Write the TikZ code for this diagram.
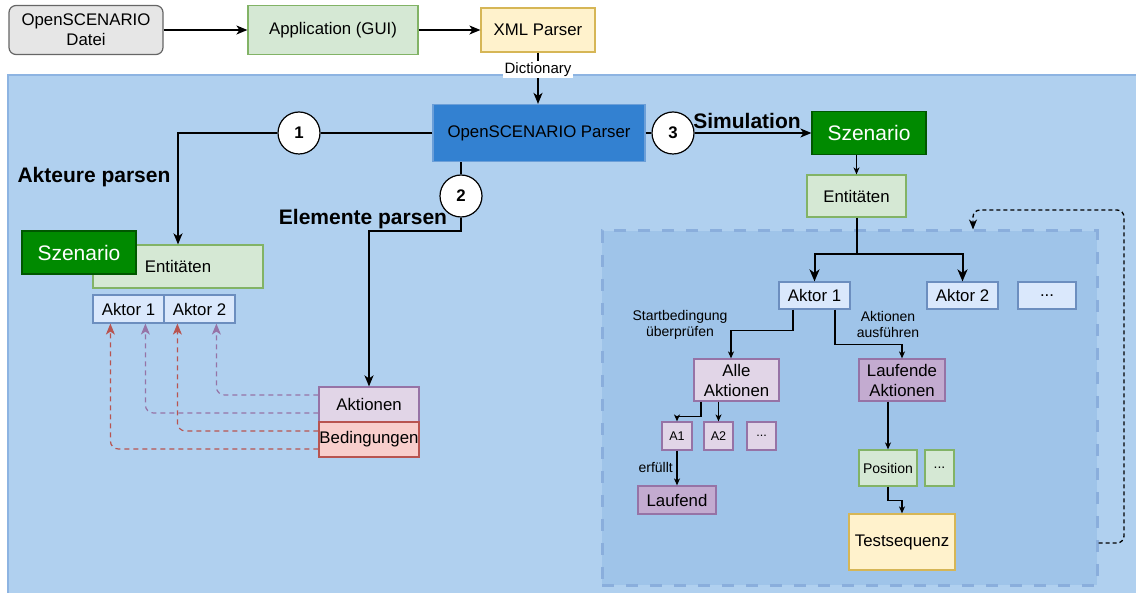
\documentclass[tikz,border=0pt]{standalone}
\usepackage{fontspec}
\setmainfont{Liberation Sans}
\usetikzlibrary{arrows.meta,calc}

\definecolor{grayfill}{HTML}{E6E6E6}
\definecolor{graydraw}{HTML}{666666}
\definecolor{greenfill}{HTML}{D5E8D4}
\definecolor{greendraw}{HTML}{82B366}
\definecolor{yellowfill}{HTML}{FFF2CC}
\definecolor{yellowdraw}{HTML}{D6B656}
\definecolor{bluefill}{HTML}{DAE8FC}
\definecolor{bluedraw}{HTML}{6C8EBF}
\definecolor{purplefill}{HTML}{E1D5E7}
\definecolor{purpledark}{HTML}{C3ABD0}
\definecolor{purpledraw}{HTML}{9673A6}
\definecolor{redfill}{HTML}{F8CECC}
\definecolor{reddraw}{HTML}{B85450}
\definecolor{darkgreen}{HTML}{008A00}
\definecolor{darkgreendraw}{HTML}{005700}
\definecolor{parserfill}{HTML}{3381D1}
\definecolor{parserdraw}{HTML}{6C9FD8}
\definecolor{panel}{HTML}{B0D0EF}
\definecolor{panelline}{HTML}{8DB4E2}
\definecolor{grpfill}{HTML}{9FC4E9}
\definecolor{grpline}{HTML}{8AAEDC}

\newcommand{\fsz}[2]{\fontsize{#1}{#2}\selectfont}

\tikzset{
  box/.style={draw, line width=1.2pt, inner sep=0pt, align=center, font=\fsz{16.8}{20}},
  gbox/.style={box, fill=greenfill, draw=greendraw},
  ybox/.style={box, fill=yellowfill, draw=yellowdraw},
  bbox/.style={box, fill=bluefill, draw=bluedraw},
  pbox/.style={box, fill=purplefill, draw=purpledraw},
  pdbox/.style={box, fill=purpledark, draw=purpledraw},
  rbox/.style={box, fill=redfill, draw=reddraw},
  szbox/.style={box, fill=darkgreen, draw=darkgreendraw, text=white, font=\fsz{21}{25},
    minimum width=114pt, minimum height=43pt},
  num/.style={circle, draw, fill=white, line width=1.2pt, minimum size=42pt, inner sep=0pt,
    font=\bfseries\fsz{16.8}{20}},
  lbl/.style={inner sep=0pt, font=\bfseries\fsz{21}{25}},
  small/.style={inner sep=0pt, align=center, font=\fsz{14}{16}},
  conn/.style={line width=1.6pt},
  arr/.style={line width=1.6pt, -{Stealth[length=11pt,width=9pt,inset=3pt]}},
  arrb/.style={line width=2pt, -{Stealth[length=12pt,width=10pt,inset=3.5pt]}},
  arrs/.style={line width=1.5pt, -{Stealth[length=7pt,width=6pt,inset=2pt]}},
  pdash/.style={line width=1.2pt, draw=purpledraw, dash pattern=on 5pt off 4pt, rounded corners=8pt,
    -{Stealth[length=11pt,width=9pt,inset=3pt,fill=purpledraw]}},
  rdash/.style={line width=1.2pt, draw=reddraw, dash pattern=on 5pt off 4pt, rounded corners=8pt,
    -{Stealth[length=11pt,width=9pt,inset=3pt,fill=reddraw]}},
  loopdash/.style={line width=1.3pt, dash pattern=on 4pt off 3pt, rounded corners=7pt,
    -{Stealth[length=10pt,width=8pt,inset=3pt]}}
}

\begin{document}
\begin{tikzpicture}[x=1pt,y=-1pt]
\useasboundingbox (0,0) rectangle (1136,593);

% input chain
\node[box, rounded corners=7pt, fill=grayfill, draw=graydraw, minimum width=154pt, minimum height=49pt]
  (datei) at (86,30) {OpenSCENARIO\\Datei};
\node[gbox, minimum width=170pt, minimum height=49pt] (app) at (333,30) {Application (GUI)};
\node[ybox, minimum width=114pt, minimum height=44pt] (xml) at (538,30) {XML Parser};
\draw[arr] (datei) -- (app);
\draw[arr] (app) -- (xml);

% parser panel
\filldraw[fill=panel, draw=panelline, line width=1.2pt] (8,75) rectangle (1150,610);

% simulation group
\node[draw=grpline, fill=grpfill, dash pattern=on 12pt off 12pt, line width=3pt,
  minimum width=495pt, minimum height=354pt, inner sep=0pt] (grp) at (849.5,408) {};

\node[box, fill=parserfill, draw=parserdraw, minimum width=212pt, minimum height=57pt]
  (parser) at (539,133) {OpenSCENARIO Parser};
\draw[arr] (xml.south) -- node[pos=0.33, fill=white, inner sep=1.5pt, font=\fsz{15}{17}] (dict) {Dictionary}
  (xml.south |- parser.north);

% numbered steps
\node[num] (c1) at (299,133) {1};
\node[num] (c2) at (461,196) {2};
\node[num] (c3) at (673,133) {3};

\node[lbl] (lblA) at (94,177) {Akteure parsen};
\node[lbl] (lblE) at (363,219) {Elemente parsen};
\node[lbl] (lblS) at (747,121) {Simulation};

% step 1 and 2: parsed structure
\node[gbox, minimum width=170pt, minimum height=43pt] (ent1) at (178,266.5) {Entitäten};
\node[szbox] (sz1) at (79,252.5) {Szenario};
\node[bbox, minimum width=71pt, minimum height=28pt] (a1L) at (128.5,309) {Aktor 1};
\node[bbox, minimum width=71pt, minimum height=28pt] (a2L) at (199.5,309) {Aktor 2};
\node[pbox, minimum width=100pt, minimum height=35pt] (akt) at (369,404.5) {Aktionen};
\node[rbox, minimum width=100pt, minimum height=35pt] (bed) at (369,439.5) {Bedingungen};

\draw[conn] (parser.west) -- (c1.east);
\draw[arr] (c1.west) -| (ent1.north);
\draw[conn] (parser.south -| c2.north) -- (c2.north);
\draw[arr] (c2.south) -- (c2.south |- 0,231) -| (akt.north);

\draw[pdash] (akt.west |- 0,395) -| ([xshift=53pt]a2L.south west);
\draw[pdash] (akt.west |- 0,413) -| ([xshift=53pt]a1L.south west);
\draw[rdash] (bed.west |- 0,431) -| ([xshift=14pt]a2L.south west);
\draw[rdash] (bed.west |- 0,449) -| ([xshift=18pt]a1L.south west);

% step 3: simulation
\node[szbox] (sz2) at (869,133) {Szenario};
\draw[conn] (parser.east) -- (c3.west);
\draw[arr] (c3.east) -- (sz2.west);

\node[gbox, minimum width=99pt, minimum height=42pt] (ent2) at (856.5,196) {Entitäten};
\draw[arrs] (ent2.north |- sz2.south) -- (ent2.north);

\node[bbox, minimum width=71pt, minimum height=27pt] (a1R) at (814.5,295.5) {Aktor 1};
\node[bbox, minimum width=71pt, minimum height=27pt] (a2R) at (962.5,295.5) {Aktor 2};
\node[bbox, minimum width=58pt, minimum height=27pt] (dR) at (1047,295.5) {...};
\draw[arrb] (ent2.south) -- (ent2.south |- 0,254) -| (a1R.north);
\draw[arrb] (ent2.south |- 0,254) -| (a2R.north);

\node[pbox, minimum width=85pt, minimum height=42pt] (alle) at (736.5,380) {Alle\\Aktionen};
\node[pdbox, minimum width=86pt, minimum height=42pt] (lauf) at (902,380) {Laufende\\Aktionen};
\draw[arrs] ([xshift=-21.5pt]a1R.south) -- ++(0,21) -| ([xshift=-5.5pt]alle.north);
\draw[arrs] ([xshift=20.5pt]a1R.south) -- ++(0,35) -| (lauf.north);
\node[small] (lStart) at (680,325) {Startbedingung\\überprüfen};
\node[small] (lAus) at (888,324) {Aktionen\\ausführen};

\node[pbox, minimum width=30pt, minimum height=28pt, font=\fsz{12.6}{15}] (A1) at (677,436) {A1};
\node[pbox, minimum width=29pt, minimum height=28pt, font=\fsz{12.6}{15}] (A2) at (718.5,436) {A2};
\node[pbox, minimum width=29pt, minimum height=28pt, font=\fsz{12.6}{15}] (dA) at (761.5,436) {...};
\draw[arrs] ([xshift=-35.5pt]alle.south) -- ++(0,15) -| (A1.north);
\draw[arrs] (A2.north |- alle.south) -- (A2.north);

\node[pdbox, minimum width=78pt, minimum height=28pt] (laufend) at (677,500) {Laufend};
\draw[arrs, line width=2.2pt] (A1.south) -- (laufend.north);
\node[small, anchor=east] (lErf) at (673,467) {erfüllt};

\node[gbox, minimum width=58pt, minimum height=36pt, font=\fsz{14}{16}] (pos) at (888,468) {Position};
\node[gbox, minimum width=29pt, minimum height=36pt, font=\fsz{14}{16}] (dP) at (939.5,468) {...};
\draw[arrs] (pos.north |- lauf.south) -- (pos.north);

\node[ybox, minimum width=106pt, minimum height=56pt] (test) at (902,542) {Testsequenz};
\draw[arrs] (pos.south) -- ++(0,14) -| (test.north);

% repeat loop of the simulation
\draw[loopdash] (grp.east |- 0,543) -| (1124,210) -| (grp.north -| 973,0);
\end{tikzpicture}
\end{document}
